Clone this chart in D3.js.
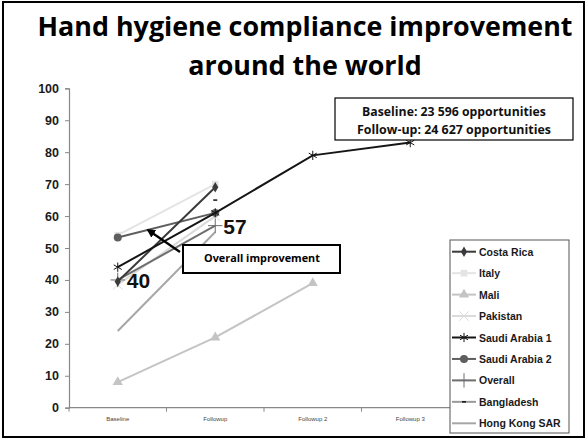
<!DOCTYPE html>
<html>
<head>
<meta charset="utf-8">
<script src="https://cdn.jsdelivr.net/npm/d3@7"></script>
<style>
  body { margin: 0; background: #fff; }
  svg { display: block; }
</style>
</head>
<body>
<div id="chart"></div>
<script>
// data
var categories = ["Baseline", "Followup", "Followup 2", "Followup 3"];
var seriesNames = ["Costa Rica", "Italy", "Mali", "Pakistan", "Saudi Arabia 1",
                   "Saudi Arabia 2", "Overall", "Bangladesh", "Hong Kong SAR"];
var costaRica   = [39.5, 69];
var italy       = [54, 70];
var mali        = [8, 22, 39];
var pakistan    = [38.5, 60];
var saudi1      = [44, 61, 79, 83];
var saudi2      = [53.3, 61];
var overall     = [40, 57];
var bangladesh  = [null, 65];
var hongKong    = [24, 55];
var yTicks      = [0, 10, 20, 30, 40, 50, 60, 70, 80, 90, 100];

var seriesValues = [costaRica, italy, mali, pakistan, saudi1, saudi2, overall, bangladesh, hongKong];
var seriesStyle = [
  {color: "#3a3a3a", marker: "diamond"},
  {color: "#e4e4e4", marker: "square"},
  {color: "#c4c4c4", marker: "triangle"},
  {color: "#dadada", marker: "x"},
  {color: "#151515", marker: "asterisk"},
  {color: "#5e5e5e", marker: "circle"},
  {color: "#6e6e6e", marker: "plus"},
  {color: "#9a9a9a", marker: "dash"},
  {color: "#a6a6a6", marker: "none"}
];

var W = 588, H = 441;
var svg = d3.select("#chart").append("svg")
    .attr("width", W)
    .attr("height", H);

svg.append("rect").attr("width", W).attr("height", H).attr("fill", "#fff");
// outer frame
svg.append("rect")
    .attr("x", 3).attr("y", 2).attr("width", 581).attr("height", 435)
    .attr("fill", "none").attr("stroke", "#000").attr("stroke-width", 2);

// fit a text to a given width
function fitText(sel, width) {
  var len = sel.node().getComputedTextLength();
  var fs = parseFloat(sel.attr("font-size"));
  sel.attr("font-size", fs * width / len);
}

var calibriLike = "'Open Sans', Lato, sans-serif";

// title
var t1 = svg.append("text").attr("x", 305).attr("y", 36)
    .attr("text-anchor", "middle").attr("font-family", calibriLike)
    .attr("font-weight", "bold").attr("font-size", 25).attr("fill", "#000")
    .text("Hand hygiene compliance improvement");
fitText(t1, 535);
svg.append("text").attr("x", 305).attr("y", 75)
    .attr("text-anchor", "middle").attr("font-family", calibriLike)
    .attr("font-weight", "bold").attr("font-size", t1.attr("font-size")).attr("fill", "#000")
    .text("around the world");

// scales
var xBand = d3.scaleBand().domain(categories).range([69, 459]).padding(0);
var xScale = function(i) { return xBand(categories[i]) + xBand.bandwidth() / 2; };
var yScale = d3.scaleLinear().domain([0, 100]).range([407.7, 88.3]);

// y axis
var yAxis = d3.axisLeft(yScale).tickValues(yTicks).tickSize(4).tickPadding(6);
var yg = svg.append("g").attr("transform", "translate(69,0)").call(yAxis);
yg.select(".domain").attr("stroke", "#888").attr("stroke-width", 1.2);
yg.selectAll(".tick line").attr("stroke", "#888");
yg.selectAll(".tick text")
    .attr("font-family", "Arial, 'Liberation Sans', sans-serif")
    .attr("font-weight", "bold").attr("font-size", 12.5).attr("fill", "#1a1a1a");

// x axis, ticks at band edges
var xg = svg.append("g");
xg.append("line").attr("x1", 69).attr("x2", 459)
    .attr("y1", yScale(0)).attr("y2", yScale(0))
    .attr("stroke", "#888").attr("stroke-width", 1.2);
categories.forEach(function(c, i) {
  xg.append("line")
      .attr("x1", xBand(c)).attr("x2", xBand(c))
      .attr("y1", yScale(0)).attr("y2", yScale(0) + 4)
      .attr("stroke", "#888");
  xg.append("text")
      .attr("x", xScale(i)).attr("y", yScale(0) + 13)
      .attr("text-anchor", "middle")
      .attr("font-family", "Arial, 'Liberation Sans', sans-serif")
      .attr("font-size", 6).attr("fill", "#444")
      .text(c);
});

// marker drawing
function drawMarker(g, type, x, y, color) {
  var sym = null, stroke = false, size = 40;
  if (type === "diamond") { sym = d3.symbolDiamond; size = 32; }
  else if (type === "square") { sym = d3.symbolSquare; size = 45; }
  else if (type === "triangle") { sym = d3.symbolTriangle; size = 45; }
  else if (type === "circle") { sym = d3.symbolCircle; size = 50; }
  else if (type === "x") { sym = d3.symbolX; stroke = true; size = 60; }
  else if (type === "asterisk") { sym = d3.symbolAsterisk; stroke = true; size = 60; }
  else if (type === "plus") { sym = d3.symbolPlus; stroke = true; size = 70; }
  if (type === "dash") {
    g.append("line").attr("x1", x - 2).attr("x2", x + 2).attr("y1", y).attr("y2", y)
        .attr("stroke", "#111").attr("stroke-width", 1.5);
    return;
  }
  if (!sym) return;
  var p = g.append("path").attr("transform", "translate(" + x + "," + y + ")")
      .attr("d", d3.symbol().type(sym).size(size)());
  if (stroke) p.attr("fill", "none").attr("stroke", color).attr("stroke-width", 1);
  else p.attr("fill", color);
}

// lines, light ones first so the dark ones sit on top
var drawOrder = [1, 3, 2, 8, 7, 6, 5, 0, 4];
var line = d3.line()
    .defined(function(d) { return d[1] != null; })
    .x(function(d) { return xScale(d[0]); })
    .y(function(d) { return yScale(d[1]); });

var plot = svg.append("g");
drawOrder.forEach(function(si) {
  var vals = seriesValues[si].map(function(v, i) { return [i, v]; });
  var st = seriesStyle[si];
  var g = plot.append("g");
  g.append("path").datum(vals)
      .attr("d", line).attr("fill", "none")
      .attr("stroke", st.color).attr("stroke-width", 2);
  vals.forEach(function(d) {
    if (d[1] == null) return;
    drawMarker(g, st.marker, xScale(d[0]), yScale(d[1]), st.color);
  });
});

// overall labels
svg.append("text")
    .attr("x", xScale(0) + 9).attr("y", yScale(overall[0]) + 8)
    .attr("font-family", "Arial, 'Liberation Sans', sans-serif")
    .attr("font-weight", "bold").attr("font-size", 21).attr("fill", "#111")
    .text(overall[0]);
svg.append("text")
    .attr("x", xScale(1) + 8).attr("y", yScale(overall[1]) + 8)
    .attr("font-family", "Arial, 'Liberation Sans', sans-serif")
    .attr("font-weight", "bold").attr("font-size", 21).attr("fill", "#111")
    .text(overall[1]);

// overall improvement callout
svg.append("rect").attr("x", 183).attr("y", 245).attr("width", 157).attr("height", 28)
    .attr("fill", "#fff").attr("stroke", "#000").attr("stroke-width", 2);
var oi = svg.append("text").attr("x", 262).attr("y", 262)
    .attr("text-anchor", "middle")
    .attr("font-family", calibriLike)
    .attr("font-weight", "bold").attr("font-size", 11).attr("fill", "#000")
    .text("Overall improvement");
fitText(oi, 116);

svg.append("defs").append("marker")
    .attr("id", "arrow").attr("viewBox", "0 0 10 10")
    .attr("refX", 8).attr("refY", 5)
    .attr("markerWidth", 4).attr("markerHeight", 4)
    .attr("orient", "auto")
    .append("path").attr("d", "M0,0 L10,5 L0,10 Z").attr("fill", "#000");
svg.append("line")
    .attr("x1", 180).attr("y1", 252).attr("x2", 148).attr("y2", 230)
    .attr("stroke", "#000").attr("stroke-width", 2.2)
    .attr("marker-end", "url(#arrow)");

// opportunities box
svg.append("rect").attr("x", 335).attr("y", 98).attr("width", 238).attr("height", 42)
    .attr("fill", "#fff").attr("stroke", "#000").attr("stroke-width", 1.2);
var b1 = svg.append("text").attr("x", 454).attr("y", 116)
    .attr("text-anchor", "middle")
    .attr("font-family", calibriLike)
    .attr("font-weight", "bold").attr("font-size", 11).attr("fill", "#111")
    .text("Baseline: 23 596 opportunities");
fitText(b1, 184);
var b2 = svg.append("text").attr("x", 454).attr("y", 134)
    .attr("text-anchor", "middle")
    .attr("font-family", calibriLike)
    .attr("font-weight", "bold").attr("font-size", 11).attr("fill", "#111")
    .text("Follow-up: 24 627 opportunities");
fitText(b2, 194);

// legend
var legend = svg.append("g");
legend.append("rect").attr("x", 450).attr("y", 240).attr("width", 119).attr("height", 193)
    .attr("fill", "#fff").attr("stroke", "#555").attr("stroke-width", 1);
seriesNames.forEach(function(name, i) {
  var y = 251.7 + i * 21.45;
  var st = seriesStyle[i];
  var g = legend.append("g");
  g.append("line").attr("x1", 452).attr("x2", 476).attr("y1", y).attr("y2", y)
      .attr("stroke", st.color).attr("stroke-width", 2);
  drawMarker(g, st.marker, 464, y, st.color);
  g.append("text").attr("x", 479).attr("y", y + 4)
      .attr("font-family", "Arial, 'Liberation Sans', sans-serif")
      .attr("font-weight", "bold").attr("font-size", 10.5).attr("fill", "#1a1a1a")
      .text(name);
});
</script>
</body>
</html>
